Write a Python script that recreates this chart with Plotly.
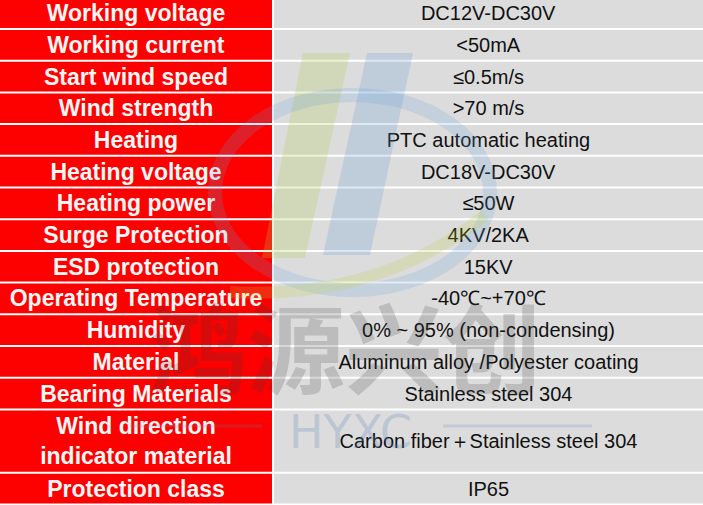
import plotly.graph_objects as go

# ---- data ----
params = [
    "Working voltage", "Working current", "Start wind speed", "Wind strength",
    "Heating", "Heating voltage", "Heating power", "Surge Protection",
    "ESD protection", "Operating Temperature", "Humidity", "Material",
    "Bearing Materials", "Wind direction<br>indicator material", "Protection class",
]
values = [
    "DC12V-DC30V", "<50mA", "≤0.5m/s", ">70 m/s",
    "PTC automatic heating", "DC18V-DC30V", "≤50W", "4KV/2KA",
    "15KV", "-40℃~+70℃", "0% ~ 95% (non-condensing)", "Aluminum alloy /Polyester coating",
    "Stainless steel 304", "Carbon fiber＋Stainless steel 304", "IP65",
]
row_spans = [1, 1, 1, 1, 1, 1, 1, 1, 1, 1, 1, 1, 1, 2, 1]
watermark_cn = "鸿源兴创"
watermark_en = "HYXC"

# ---- layout helpers ----
RED = "#fd0000"
GRAY = "#dcdcdc"
PITCH = 31.7          # px per row unit
GAP = 2.0 / PITCH     # white separator, in row units
LEFT_W = 272
RIGHT_X = 274
TOTAL_W = 703
H = 505

starts = []
acc = 0
for s in row_spans:
    starts.append(acc)
    acc += s
centers = [st + sp / 2 for st, sp in zip(starts, row_spans)]
widths = [sp - GAP for sp in row_spans]
n = len(params)

fig = go.Figure()
fig.add_trace(go.Bar(
    orientation="h",
    y=centers, width=widths,
    base=[0] * n, x=[LEFT_W] * n,
    marker=dict(color=RED, line=dict(width=0)),
    text=[f"<b>{p}</b>" for p in params],
    textposition="inside", insidetextanchor="middle", textangle=0,
    constraintext="none",
    textfont=dict(family="Liberation Sans, Arial", size=23, color="#fff6f6"),
    hoverinfo="skip", showlegend=False,
))
fig.add_trace(go.Bar(
    orientation="h",
    y=centers, width=widths,
    base=[RIGHT_X] * n, x=[TOTAL_W - RIGHT_X] * n,
    marker=dict(color=GRAY, line=dict(width=0)),
    text=values,
    textposition="inside", insidetextanchor="middle", textangle=0,
    constraintext="none",
    textfont=dict(family="Liberation Sans, Arial", size=20, color="#111111"),
    hoverinfo="skip", showlegend=False,
))


def py(v):
    return 1 - v / H


# faint logo watermark (decoration)
shapes = [
    dict(type="path", xref="x", yref="paper",
         path=f"M 303,{py(53)} L 350,{py(53)} L 305,{py(258)} L 262,{py(258)} Z",
         fillcolor="rgba(175,205,80,0.24)", line=dict(width=0), layer="above"),
    dict(type="path", xref="x", yref="paper",
         path=f"M 367,{py(53)} L 413,{py(53)} L 370,{py(255)} L 323,{py(255)} Z",
         fillcolor="rgba(90,150,215,0.22)", line=dict(width=0), layer="above"),
    dict(type="circle", xref="x", yref="paper",
         x0=215, x1=490, y0=py(290), y1=py(95),
         line=dict(color="rgba(100,160,215,0.2)", width=14), layer="above"),
    dict(type="path", xref="x", yref="paper",
         path=f"M 230,{py(292)} Q 380,{py(300)} 485,{py(215)}",
         line=dict(color="rgba(190,210,70,0.22)", width=12), layer="above"),
    dict(type="line", xref="x", yref="paper", x0=130, x1=262, y0=py(426), y1=py(426),
         line=dict(color="rgba(90,130,180,0.2)", width=3), layer="above"),
    dict(type="line", xref="x", yref="paper", x0=443, x1=592, y0=py(426), y1=py(426),
         line=dict(color="rgba(90,130,180,0.2)", width=3), layer="above"),
]

annotations = [
    dict(text=f"<b>{watermark_cn}</b>", xref="x", yref="paper", x=345, y=py(343),
         yanchor="middle", showarrow=False,
         font=dict(family="Noto Sans CJK SC", size=98, color="rgba(60,60,60,0.2)")),
    dict(text=watermark_en, xref="x", yref="paper", x=350, y=py(432),
         yanchor="middle", showarrow=False,
         font=dict(family="DejaVu Sans", size=46, color="rgba(90,130,185,0.25)")),
]

top_px = -2.7
fig.update_layout(
    width=TOTAL_W, height=H,
    margin=dict(l=0, r=0, t=0, b=0),
    paper_bgcolor="white", plot_bgcolor="white",
    barmode="overlay",
    xaxis=dict(range=[0, TOTAL_W], visible=False, fixedrange=True),
    yaxis=dict(range=[(H - top_px) / PITCH, -top_px / PITCH], visible=False, fixedrange=True),
    shapes=shapes,
    annotations=annotations,
)

fig.write_html("out.html", config={"displayModeBar": False},
               post_script="document.body.style.margin='0px';")
